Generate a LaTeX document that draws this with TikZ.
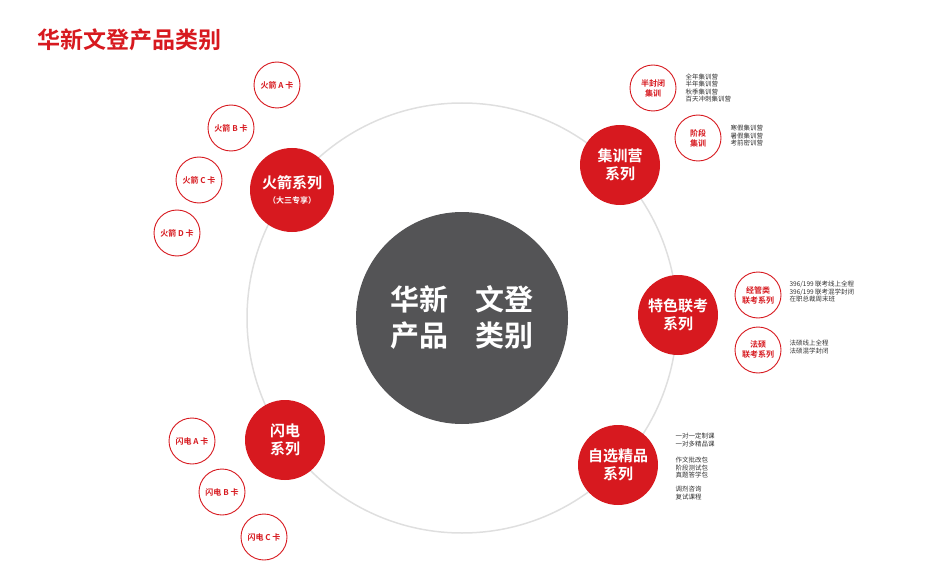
\documentclass[tikz,border=0pt]{standalone}
\usepackage{fontspec}
\setmainfont{Noto Sans CJK SC}
\newfontfamily\cjkb{Noto Sans CJK SC Bold}
\definecolor{rd}{HTML}{D7191F}
\definecolor{dk}{HTML}{545456}
\definecolor{tx}{HTML}{333333}
\begin{document}
\begin{tikzpicture}[x=1pt,y=-1pt,
 big/.style={circle,fill=rd,minimum size=80pt,inner sep=0,text=white,font=\cjkb\fontsize{15}{18}\selectfont,align=center},
 sm/.style={circle,draw=rd,line width=0.9pt,fill=white,minimum size=46pt,inner sep=0,text=rd,font=\cjkb\fontsize{8}{10}\selectfont,align=center},
 lst/.style={anchor=west,align=left,text=tx,font=\fontsize{6.5}{7.5}\selectfont}]
\useasboundingbox (0,0) rectangle (928,580);
\node[anchor=west,text=rd,font=\cjkb\fontsize{23}{26}\selectfont] (title) at (34,40) {华新文登产品类别};
\draw[gray!25,line width=1.5pt] (462,318) circle (215);
\node[circle,fill=dk,minimum size=212pt,inner sep=0,text=white,font=\cjkb\fontsize{29}{36}\selectfont,align=left] (c) at (462,318) {华新\hspace{0.9em}文登\\产品\hspace{0.9em}类别};
\node[big,minimum size=84pt] (hj) at (292,190) {火箭系列\\[-3pt]{\fontsize{8}{9}\selectfont（大三专享）}};
\node[big] (jx) at (620,165) {集训营\\系列};
\node[big] (ts) at (678,315) {特色联考\\系列};
\node[big] (zx) at (618,465) {自选精品\\系列};
\node[big] (sd) at (285,440) {闪电\\系列};
\node[sm] (a1) at (277,85) {火箭 A 卡};
\node[sm] (a2) at (231,128) {火箭 B 卡};
\node[sm] (a3) at (199,180) {火箭 C 卡};
\node[sm] (a4) at (177,233) {火箭 D 卡};
\node[sm] (b1) at (192,441) {闪电 A 卡};
\node[sm] (b2) at (222,492) {闪电 B 卡};
\node[sm] (b3) at (264,537) {闪电 C 卡};
\node[sm] (j1) at (653,88) {半封闭\\集训};
\node[sm] (j2) at (698,138) {阶段\\集训};
\node[sm] (t1) at (758,295) {经管类\\联考系列};
\node[sm] (t2) at (758,350) {法硕\\联考系列};
\node[lst] (l1) at (682,88) {全年集训营\\半年集训营\\秋季集训营\\百天冲刺集训营};
\node[lst] (l2) at (727,136) {寒假集训营\\暑假集训营\\考前密训营};
\node[lst] (l3) at (786,292) {396/199 联考线上全程\\396/199 联考混学封闭\\在职总裁周末班};
\node[lst] (l4) at (786,347) {法硕线上全程\\法硕混学封闭};
\node[lst] (l5) at (672,440) {一对一定制课\\一对多精品课};
\node[lst] (l6) at (672,468) {作文批改包\\阶段测试包\\真题答学包};
\node[lst] (l7) at (672,493) {调剂咨询\\复试课程};
\end{tikzpicture}
\end{document}
